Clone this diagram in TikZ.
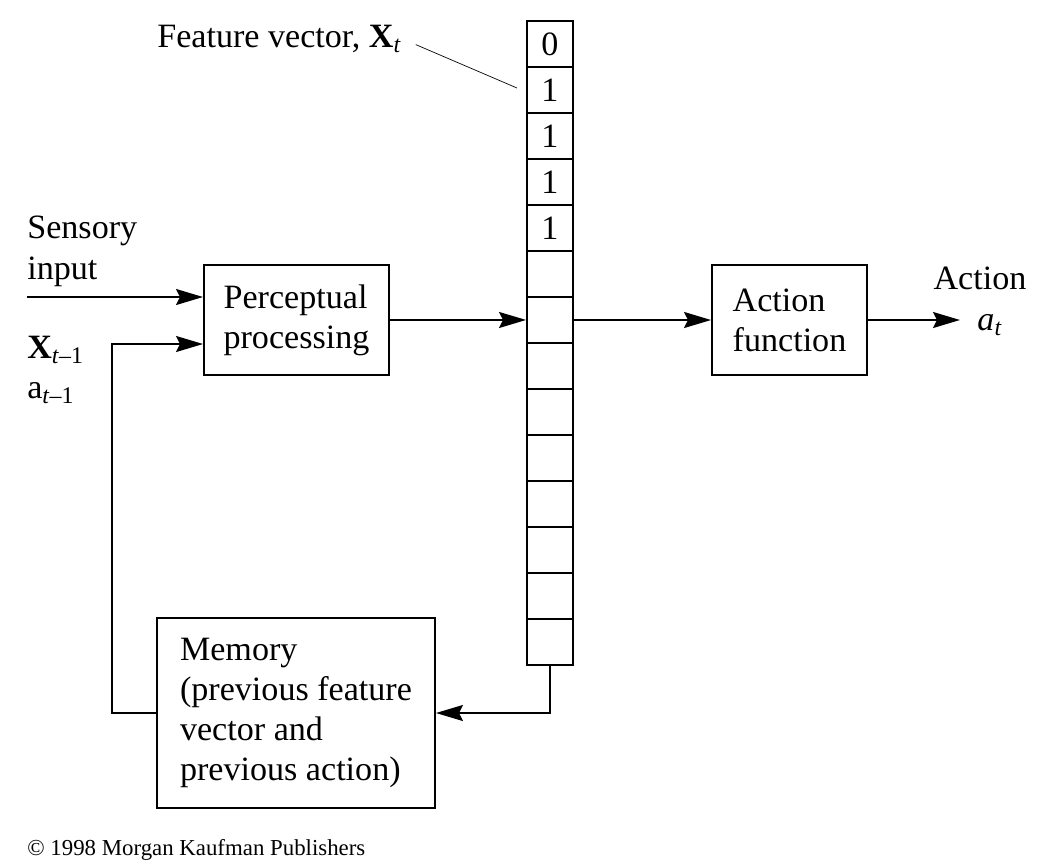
\documentclass[tikz,border=0pt]{standalone}
\usepackage{fontspec}
\setmainfont{Liberation Serif}
\usepackage{tikz}
\usetikzlibrary{arrows.meta,positioning}
\tikzset{
  ar/.style={-{Stealth[length=5.4mm,width=3.2mm,inset=0.8mm]},line width=1.1pt},
  box/.style={draw,line width=1.1pt,align=left,inner sep=0pt},
  cell/.style={draw,line width=1.1pt,minimum size=9.2mm,inner sep=0pt,anchor=north},
  lbl/.style={align=left,inner sep=0pt}
}
\newcommand{\subit}[1]{\textsubscript{\textit{#1}}}

\begin{document}
\begin{tikzpicture}[x=0.2mm,y=-0.2mm,font=\fontsize{19.4}{22.8}\selectfont]
\useasboundingbox (0,0) rectangle (1042,864);
\foreach \v [count=\i] in {0,1,1,1,1}
  \node[cell] (c\i) at (550,{20+46*(\i-1)}) {\v};
\foreach \i in {6,...,14}
  \node[cell] (c\i) at (550,{20+46*(\i-1)}) {};
\node[box,minimum width=37mm,minimum height=22mm] (pp) at (296.5,320) {Perceptual\\processing};
\node[box,minimum width=31mm,minimum height=22mm] (af) at (789.5,320) {Action\\function};
\node[box,minimum width=55.6mm,minimum height=38mm] (mem) at (296,713) {Memory\\(previous feature\\vector and\\previous action)};
\node[lbl,anchor=base west] (sens) at (27,279) {Sensory\\input};
\node[lbl,anchor=base west] (xprev) at (27,358) {\textbf{X}\textsubscript{\textit{t}–1}};
\node[lbl,anchor=base west] (aprev) at (27,398) {a\textsubscript{\textit{t}–1}};
\node[lbl,align=center,anchor=base] (act) at (980,330) {Action\\\hspace*{4mm}\textit{a}\subit{t}};
\node[lbl,anchor=base west] (fv) at (157,47) {Feature vector, \textbf{X}\subit{t}};
\node[inner sep=0pt,anchor=base west,font=\fontsize{13}{15}\selectfont] (pub) at (27,855) {© 1998 Morgan Kaufman Publishers};
\coordinate (sin) at (27,297);
\coordinate (fb) at (112,344);
\coordinate (aout) at (960,320);
\coordinate (fvend) at (517,88);
\draw[ar] (sin) -- (pp.west |- sin);
\draw[ar] (mem.west) -| (fb) -- (pp.west |- fb);
\draw[ar] (pp.east) -- (c7.west);
\draw[ar] (c7.east) -- (af.west);
\draw[ar] (af.east) -- (aout);
\draw[ar] (c14.south) |- (mem.east);
\draw[thin,shorten <=3mm] (fv.east) -- (fvend);
\end{tikzpicture}
\end{document}
